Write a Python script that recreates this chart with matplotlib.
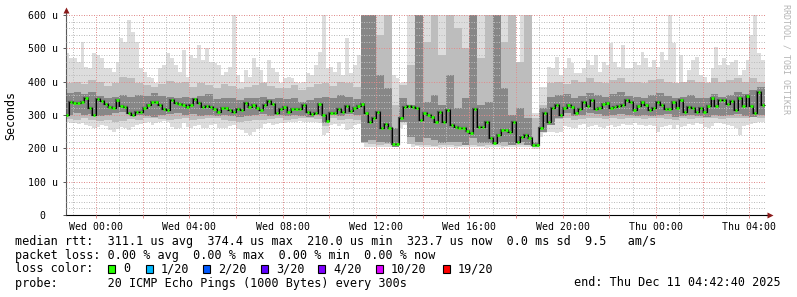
import numpy as np
from matplotlib import pyplot as plt
from matplotlib.ticker import MultipleLocator, FuncFormatter
from matplotlib.patches import Rectangle

plt.rcParams['font.family'] = 'DejaVu Sans Mono'

# time in hours relative to Wed 00:00
t_first = -4 / 3                              # Tue 22:40, first 10 min bin
end_time = 24 + 4 + 42 / 60 + 40 / 3600       # Thu 04:42:40
span = 30.0

# median rtt per 10 min bin (microseconds)
median_us = [
    300, 340, 335, 335, 340, 350, 320, 300, 347, 342, 332, 325, 322, 345, 328,
    325, 305, 300, 310, 310, 320, 330, 340, 340, 330, 318, 315, 345, 335, 333,
    330, 325, 330, 347, 337, 325, 327, 323, 318, 310, 322, 322, 316, 310, 317,
    315, 335, 325, 330, 322, 315, 330, 342, 332, 305, 318, 325, 310, 318, 318,
    318, 330, 308, 302, 305, 333, 300, 282, 307, 305, 318, 308, 328, 313, 320,
    328, 332, 305, 280, 292, 310, 262, 272, 262, 213, 213, 290, 323, 328, 325,
    320, 285, 305, 300, 295, 280, 310, 280, 315, 270, 265, 262, 260, 252, 245,
    318, 265, 265, 280, 230, 215, 240, 255, 255, 250, 280, 220, 235, 240, 232,
    210, 210, 260, 305, 280, 320, 330, 300, 320, 330, 325, 305, 318, 340, 328,
    345, 318, 322, 333, 335, 320, 325, 327, 330, 345, 338, 315, 328, 340, 330,
    315, 320, 340, 330, 318, 318, 338, 322, 345, 308, 325, 322, 308, 322, 308,
    328, 352, 328, 345, 345, 332, 343, 315, 350, 327, 357, 328, 305, 370, 330,
]

# smoke envelope (max / min of the 20 pings) per 10 min bin
smoke_top = [
    485, 470, 470, 460, 520, 445, 440, 485, 480, 470, 440, 440, 430, 460, 530,
    520, 585, 550, 520, 440, 430, 415, 410, 395, 440, 450, 485, 470, 450, 430,
    495, 415, 480, 470, 510, 465, 500, 460, 455, 450, 420, 430, 445, 600, 420,
    400, 435, 415, 470, 445, 435, 400, 465, 440, 430, 395, 410, 415, 410, 400,
    395, 400, 425, 420, 450, 490, 600, 440, 445, 430, 460, 420, 530, 425, 450,
    480, 600, 600, 600, 600, 600, 600, 600, 600, 420, 410, 395, 400, 600, 600,
    600, 600, 600, 600, 600, 600, 600, 600, 600, 600, 600, 600, 600, 600, 600,
    600, 600, 600, 600, 600, 600, 600, 600, 600, 600, 600, 440, 600, 600, 600,
    305, 305, 385, 385, 445, 440, 475, 420, 440, 470, 455, 425, 425, 440, 465,
    450, 480, 430, 460, 450, 515, 460, 445, 510, 440, 440, 460, 450, 490, 470,
    445, 465, 445, 490, 465, 600, 515, 390, 480, 400, 435, 465, 475, 420, 415,
    400, 440, 505, 450, 470, 450, 460, 465, 420, 435, 465, 540, 600, 485, 465,
]
smoke_bot = [
    280, 275, 275, 272, 275, 270, 268, 262, 265, 270, 268, 255, 250, 258, 265,
    262, 255, 265, 270, 272, 275, 278, 270, 275, 280, 282, 280, 265, 258, 262,
    275, 265, 262, 268, 270, 262, 260, 270, 272, 262, 260, 262, 268, 270, 258,
    255, 245, 240, 248, 258, 262, 272, 275, 270, 272, 275, 275, 278, 280, 280,
    282, 280, 280, 278, 278, 275, 240, 245, 270, 272, 268, 272, 255, 258, 270,
    272, 265, 205, 205, 205, 205, 205, 205, 205, 205, 205, 262, 270, 270, 205,
    208, 205, 205, 203, 205, 205, 200, 203, 205, 205, 202, 205, 205, 205, 203,
    205, 205, 205, 200, 203, 205, 205, 200, 203, 205, 205, 203, 205, 205, 205,
    198, 198, 235, 245, 248, 250, 245, 250, 268, 265, 262, 262, 270, 272, 265,
    268, 270, 265, 262, 268, 270, 265, 268, 272, 270, 270, 275, 270, 270, 268,
    270, 268, 250, 265, 268, 270, 258, 270, 265, 268, 272, 270, 275, 272, 265,
    262, 268, 275, 275, 272, 270, 268, 262, 240, 268, 270, 272, 275, 278, 280,
]

# denser smoke bands per 20 min bin
band_top = [
    395, 400, 392, 405, 398, 388, 395, 415, 410, 395, 390, 385, 392, 402, 396,
    400, 385, 395, 390, 380, 392, 388, 378, 385, 390, 395, 388, 382, 380, 390,
    375, 385, 392, 395, 388, 400, 395, 385, 600, 600, 540, 600, 330, 390, 450,
    600, 520, 600, 480, 600, 560, 500, 600, 470, 600, 600, 520, 600, 460, 600,
    290, 330, 395, 400, 392, 405, 398, 410, 400, 395, 405, 412, 400, 398, 395,
    405, 408, 400, 395, 400, 405, 398, 395, 410, 400, 405, 412, 400, 410, 400,
]
band_bot = [
    288, 285, 290, 285, 282, 285, 280, 283, 288, 285, 290, 292, 288, 285, 288,
    290, 285, 288, 290, 292, 285, 283, 280, 282, 285, 285, 288, 290, 285, 288,
    290, 290, 288, 268, 290, 285, 288, 285, 215, 212, 210, 212, 210, 285, 212,
    210, 210, 208, 210, 210, 208, 210, 210, 208, 210, 210, 208, 210, 210, 210,
    205, 255, 285, 288, 290, 285, 288, 290, 292, 288, 290, 288, 292, 290, 288,
    290, 292, 288, 285, 290, 288, 290, 292, 290, 288, 290, 292, 290, 295, 292,
]
core_top = [
    365, 370, 362, 368, 358, 352, 355, 360, 355, 360, 358, 365, 358, 355, 352,
    355, 350, 358, 362, 348, 352, 350, 345, 350, 352, 355, 348, 350, 348, 352,
    340, 345, 350, 355, 350, 360, 355, 348, 600, 600, 420, 380, 260, 350, 330,
    600, 340, 360, 330, 420, 320, 350, 600, 330, 340, 600, 380, 300, 320, 290,
    220, 320, 355, 360, 362, 352, 358, 365, 360, 355, 362, 368, 358, 355, 352,
    360, 365, 358, 352, 355, 360, 352, 350, 362, 355, 360, 370, 362, 375, 385,
]
core_bot = [
    300, 305, 300, 302, 298, 300, 305, 308, 302, 300, 298, 295, 300, 302, 305,
    300, 302, 298, 300, 298, 300, 298, 295, 298, 300, 302, 298, 300, 298, 300,
    298, 295, 300, 275, 300, 298, 302, 300, 220, 225, 220, 215, 205, 280, 235,
    220, 230, 225, 215, 220, 220, 210, 230, 215, 215, 215, 220, 210, 218, 210,
    205, 250, 270, 290, 305, 298, 300, 305, 302, 298, 300, 302, 300, 298, 300,
    298, 300, 302, 295, 298, 300, 298, 295, 300, 298, 300, 302, 298, 295, 300,
]

stats_rows = [
    'median rtt:  311.1 us avg  374.4 us max  210.0 us min  323.7 us now  0.0 ms sd  9.5   am/s',
    'packet loss: 0.00 % avg  0.00 % max  0.00 % min  0.00 % now',
    'loss color:',
    'probe:       20 ICMP Echo Pings (1000 Bytes) every 300s',
]
end_label = 'end: Thu Dec 11 04:42:40 2025'
loss_labels = ['0', '1/20', '2/20', '3/20', '4/20', '10/20', '19/20']
loss_colors = ['#26ff00', '#00b8ff', '#0059ff', '#5e00ff', '#7e00ff', '#dd00ff', '#ff0000']


W, H = 797, 297
fig = plt.figure(figsize=(W / 100, H / 100), dpi=100)
ax = fig.add_axes([66 / W, 82 / H, 700 / W, 200 / H])

edges = t_first + np.arange(len(median_us) + 1) / 6
edges2 = t_first + np.arange(len(band_top) + 1) / 3

# smoke, lightest outside, darker towards the median
ax.stairs(smoke_top, edges, baseline=smoke_bot, fill=True, color='#dddddd', lw=0, zorder=1)
ax.stairs(band_top, edges2, baseline=band_bot, fill=True, color='#bdbdbd', lw=0, zorder=1.1)
ax.stairs(core_top, edges2, baseline=core_bot, fill=True, color='#878787', lw=0, zorder=1.2)

ax.stairs(median_us, edges, baseline=None, color='#505050', lw=1.6, zorder=3)
ax.stairs(median_us, edges, baseline=None, color='black', lw=0.7, zorder=3.1)
ax.hlines(median_us, edges[:-1] + 0.03, edges[1:] - 0.03, color=loss_colors[0], lw=2.0, zorder=3.2)

ax.set_xlim(end_time - span, end_time)
ax.set_ylim(0, 600)


def xfmt(h, pos):
    h = int(round(h))
    if h % 4:
        return ''
    day = 'Wed' if h < 24 else 'Thu'
    return f'{day} {h % 24:02d}:00'


def yfmt(v, pos):
    return '0  ' if v == 0 else f'{int(v)} u'


ax.xaxis.set_major_locator(MultipleLocator(2))
ax.xaxis.set_minor_locator(MultipleLocator(1))
ax.xaxis.set_major_formatter(FuncFormatter(xfmt))
ax.yaxis.set_major_locator(MultipleLocator(100))
ax.yaxis.set_minor_locator(MultipleLocator(20))
ax.yaxis.set_major_formatter(FuncFormatter(yfmt))

ax.set_axisbelow(False)
ax.grid(which='major', color='#e08c8c', lw=0.72, ls=(0, (1, 1.5)))
ax.grid(which='minor', color='#bdbdbd', lw=0.72, ls=(0, (1, 1.5)))

ax.tick_params(which='minor', length=0)
ax.tick_params(axis='x', which='major', length=2, width=0.7, color='#e08c8c', pad=3,
               labelsize=7.1, labelcolor='black')
ax.tick_params(axis='y', which='major', length=2.2, width=0.7, color='#555555', pad=3.6,
               labelsize=7.1, labelcolor='black')

for s in ['top', 'right']:
    ax.spines[s].set_visible(False)
ax.spines['left'].set_color('#5a5a5a')
ax.spines['bottom'].set_color('black')
ax.spines['left'].set_linewidth(0.8)
ax.spines['bottom'].set_linewidth(0.8)

# axis arrows
ax.plot([0, 0], [1, 1.025], color='#5a5a5a', lw=0.8, transform=ax.transAxes, clip_on=False)
ax.plot([0], [1.025], marker='^', ms=4, color='#8b1a1a', mec='none', transform=ax.transAxes, clip_on=False)
ax.plot([1, 1.006], [0, 0], color='black', lw=0.8, transform=ax.transAxes, clip_on=False)
ax.plot([1.006], [0], marker='>', ms=4, color='#8b1a1a', mec='none', transform=ax.transAxes, clip_on=False)

fig.text(11 / W, 1 - 115 / H, 'Seconds', rotation=90, fontsize=8.4, ha='center', va='center')
fig.text(786 / W, 1 - 4 / H, 'RRDTOOL / TOBI OETIKER', rotation=-90, fontsize=6,
         color='#b4b4b4', ha='center', va='top')

row_y = [241, 255, 269, 283]
for txt, y in zip(stats_rows, row_y):
    fig.text(15 / W, 1 - y / H, txt, fontsize=8.5, ha='left', va='center')
fig.text(781 / W, 1 - row_y[3] / H, end_label, fontsize=8.5, ha='right', va='center')

square_x = [108, 146, 203, 261, 318, 376, 443]
for x, lab, col in zip(square_x, loss_labels, loss_colors):
    fig.add_artist(Rectangle((x / W, 1 - 273 / H), 7 / W, 8 / H, transform=fig.transFigure,
                             facecolor=col, edgecolor='black', lw=0.8))
    fig.text((x + 15) / W, 1 - row_y[2] / H, lab, fontsize=8.5, ha='left', va='center')

plt.savefig('out.png', dpi=100)
